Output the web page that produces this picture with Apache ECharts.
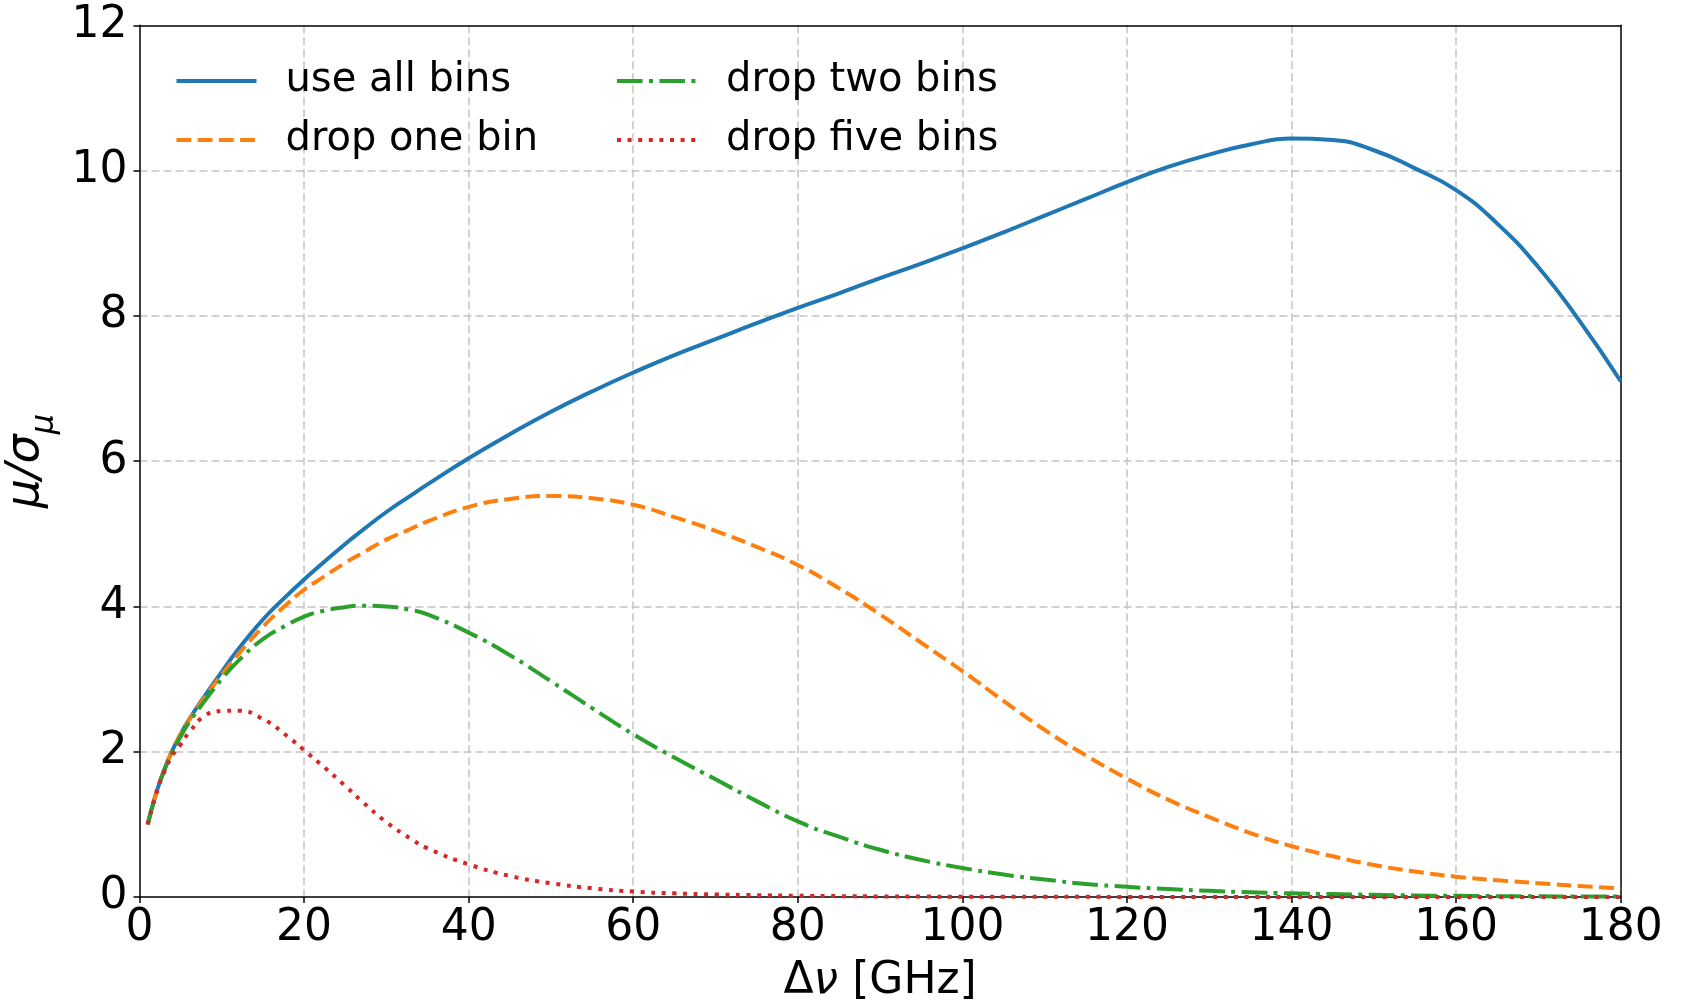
<!DOCTYPE html>
<html>
<head>
<meta charset="utf-8">
<script src="https://cdn.jsdelivr.net/npm/echarts@6/dist/echarts.min.js"></script>
<style>
  html, body { margin: 0; padding: 0; background: #fff; }
  #chart { width: 1683px; height: 1000px; }
</style>
</head>
<body>
<div id="chart"></div>
<script>
// Frequency separation Δν in GHz (shared sampling for all curves)
const deltaNu = [1, 2, 3, 4, 5, 6, 8, 10, 12, 15, 18, 20, 22, 25, 27, 30, 33, 35, 40, 45,
  50, 55, 60, 65, 70, 75, 80, 85, 90, 95, 100, 105, 110, 115, 120, 125, 130, 135, 140,
  145, 150, 155, 160, 165, 170, 175, 180];

// Signal-to-noise μ/σ_μ for each bin selection
const useAllBins = [1.0, 1.42, 1.75, 2.02, 2.24, 2.44, 2.78, 3.1, 3.41, 3.82, 4.16, 4.37, 4.57,
  4.86, 5.04, 5.3, 5.53, 5.68, 6.04, 6.37, 6.68, 6.96, 7.22, 7.46, 7.68, 7.9, 8.11, 8.31, 8.52,
  8.72, 8.93, 9.15, 9.38, 9.61, 9.84, 10.05, 10.22, 10.36, 10.44, 10.42, 10.28, 10.03,
  9.73, 9.27, 8.67, 7.93, 7.1];
const dropOneBin = [1.0, 1.42, 1.75, 2.02, 2.24, 2.43, 2.76, 3.06, 3.34, 3.72, 4.04, 4.23, 4.38,
  4.6, 4.73, 4.92, 5.07, 5.17, 5.37, 5.48, 5.52, 5.49, 5.4, 5.23, 5.04, 4.82, 4.57, 4.25, 3.89,
  3.5, 3.11, 2.7, 2.3, 1.95, 1.63, 1.34, 1.1, 0.88, 0.7, 0.56, 0.44, 0.35, 0.28, 0.23,
  0.19, 0.15, 0.12];
const dropTwoBins = [1.0, 1.42, 1.74, 2.0, 2.21, 2.4, 2.71, 3.0, 3.25, 3.55, 3.75, 3.86,
  3.93, 3.99, 4.01, 4.0, 3.95, 3.89, 3.64, 3.33, 2.97, 2.6, 2.24, 1.92, 1.62, 1.32, 1.04, 0.83,
  0.65, 0.51, 0.4, 0.31, 0.24, 0.18, 0.14, 0.11, 0.085, 0.065, 0.05, 0.04, 0.03, 0.022,
  0.016, 0.012, 0.009, 0.007, 0.005];
const dropFiveBins = [1.0, 1.41, 1.72, 1.95, 2.1, 2.26, 2.5, 2.56, 2.565, 2.45, 2.21, 2.02,
  1.83, 1.53, 1.32, 1.03, 0.8, 0.67, 0.45, 0.29, 0.19, 0.12, 0.075, 0.05, 0.035, 0.025, 0.017,
  0.012, 0.008, 0.006, 0.004, 0.003, 0.002, 0.002, 0.001, 0.001, 0.001, 0.001, 0.001,
  0.001, 0.0, 0.0, 0.0, 0.0, 0.0, 0.0, 0.0];

const xTicks = [0, 20, 40, 60, 80, 100, 120, 140, 160, 180];
const yTicks = [0, 2, 4, 6, 8, 10, 12];

const seriesNames = ['use all bins', 'drop one bin', 'drop two bins', 'drop five bins'];
const seriesColors = ['#1f77b4', '#ff7f0e', '#2ca02c', '#d62728'];

const FONT = 'DejaVu Sans';
const LW = 4;
const dashPatterns = [
  'solid',
  [14.8, 6.4],
  [25.6, 6.4, 4, 6.4],
  [4, 6.6]
];

function pairs(ys) { return deltaNu.map((x, i) => [x, ys[i]]); }
const values = [useAllBins, dropOneBin, dropTwoBins, dropFiveBins];

const chart = echarts.init(document.getElementById('chart'), null, { renderer: 'canvas' });

const gridStyle = { show: true, showMinLine: false, showMaxLine: false,
  lineStyle: { color: '#c4c4c4', width: 1.5, type: [8, 4] } };
const spine = { show: true, onZero: false, lineStyle: { color: '#000', width: 1.5 } };

const legendCommon = {
  orient: 'vertical',
  top: 58,
  itemWidth: 80,
  itemHeight: 14,
  itemGap: 13,
  padding: 0,
  itemStyle: { opacity: 0 },
  lineStyle: { width: LW },
  textStyle: { fontFamily: FONT, fontSize: 40, color: '#000', lineHeight: 46, padding: [0, 0, 0, 24] }
};

// secondary axes only draw the top and right frame lines
const frameX = { type: 'value', position: 'top', min: 0, max: 180, interval: 20,
  axisLine: spine, axisTick: { show: false }, axisLabel: { show: false }, splitLine: { show: false } };
const frameY = { type: 'value', position: 'right', min: 0, max: 12, interval: 2,
  axisLine: spine, axisTick: { show: false }, axisLabel: { show: false }, splitLine: { show: false } };

chart.setOption({
  animation: false,
  backgroundColor: '#fff',
  grid: { left: 139.5, right: 62.3, top: 25.3, bottom: 103, containLabel: false, outerBoundsMode: 'none' },
  legend: [
    Object.assign({}, legendCommon, { left: 174.5, data: [seriesNames[0], seriesNames[1]] }),
    Object.assign({}, legendCommon, { left: 615, data: [seriesNames[2], seriesNames[3]] })
  ],
  xAxis: [{
    type: 'value', min: 0, max: 180, interval: 20,
    name: '{n|Δ}{i|ν}{n| [GHz]}',
    nameLocation: 'middle', nameGap: 63,
    nameTextStyle: { rich: {
      n: { fontFamily: FONT, fontSize: 44, color: '#000' },
      i: { fontFamily: FONT, fontSize: 44, fontStyle: 'italic', color: '#000' }
    } },
    axisLine: spine,
    axisTick: { show: true, inside: false, length: 6, lineStyle: { color: '#000', width: 1.5 } },
    axisLabel: { fontFamily: FONT, fontSize: 44, color: '#000', margin: 10,
      formatter: v => (xTicks.indexOf(v) >= 0 ? String(v) : '') },
    splitLine: gridStyle
  }, frameX],
  yAxis: [{
    type: 'value', min: 0, max: 12, interval: 2,
    name: '{i|μ/σ}{s|μ}',
    nameLocation: 'middle', nameGap: 72, nameRotate: 90,
    nameTextStyle: { rich: {
      i: { fontFamily: FONT, fontSize: 46, fontStyle: 'italic', color: '#000', lineHeight: 58, verticalAlign: 'top' },
      s: { fontFamily: FONT, fontSize: 32, fontStyle: 'italic', color: '#000', lineHeight: 32, verticalAlign: 'bottom' }
    } },
    axisLine: spine,
    axisTick: { show: true, inside: false, length: 6, lineStyle: { color: '#000', width: 1.5 } },
    axisLabel: { fontFamily: FONT, fontSize: 44, color: '#000', margin: 12,
      formatter: v => (yTicks.indexOf(v) >= 0 ? String(v) : '') },
    splitLine: gridStyle
  }, frameY],
  series: seriesNames.map((name, k) => ({
    name: name,
    type: 'line',
    xAxisIndex: 0,
    yAxisIndex: 0,
    data: pairs(values[k]),
    showSymbol: false,
    symbol: 'none',
    smooth: 0.5,
    color: seriesColors[k],
    lineStyle: { color: seriesColors[k], width: LW, type: dashPatterns[k], cap: 'butt', join: 'round' },
    z: 3 + k
  }))
});
</script>
</body>
</html>
